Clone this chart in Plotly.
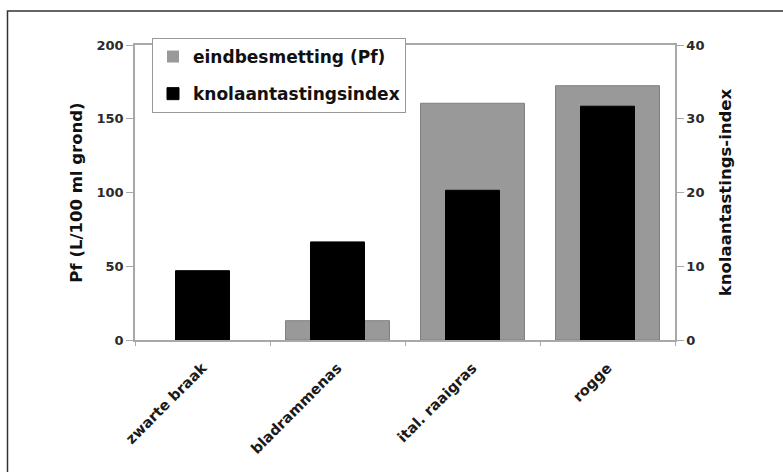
import plotly.graph_objects as go

categories = ["zwarte braak", "bladrammenas", "ital. raaigras", "rogge"]
pf_values = [0, 13.1, 160.5, 172.4]
index_values = [9.4, 13.3, 20.3, 31.7]
left_ticks = [0, 50, 100, 150, 200]
right_ticks = [0, 10, 20, 30, 40]

W, H = 783, 472
L, R, T, B = 135, 675, 45, 340

def px_x(x):
    return (x - L) / (R - L)

def px_y(y):
    return (B - y) / (B - T)

FONT = "DejaVu Sans"
AX = "#a8a8a8"

fig = go.Figure()
fig.add_trace(go.Bar(
    x=categories, y=pf_values, name="eindbesmetting (Pf)",
    marker=dict(color="#999999",
                line=dict(color="#7f7f7f", width=[0 if v == 0 else 1 for v in pf_values])),
    width=0.77, yaxis="y", legendgroup="a",
))
fig.add_trace(go.Bar(
    x=categories, y=index_values, name="knolaantastingsindex",
    marker=dict(color="#000000", line=dict(color="#000000", width=1)),
    width=0.40, yaxis="y2", legendgroup="b",
))

tickfont = dict(family=FONT, size=13, color="#2a2a2a", weight="bold")
xtickfont = dict(family=FONT, size=14.5, color="#1a1a1a", weight="bold")
titlefont = dict(family=FONT, size=16.5, color="#111111", weight="bold")

fig.update_layout(
    width=W, height=H,
    margin=dict(l=L, r=W - R, t=T, b=H - B, autoexpand=False),
    paper_bgcolor="white", plot_bgcolor="white",
    barmode="overlay",
    xaxis=dict(
        type="category", range=[-0.5, 3.5],
        showline=True, linecolor=AX, linewidth=1.5, mirror=True,
        ticks="outside", ticklen=4, tickcolor=AX, tickson="boundaries",
        tickangle=-45, tickfont=xtickfont, showgrid=False,
        ticklabelstandoff=12,
    ),
    yaxis=dict(
        range=[0, 200], tickvals=left_ticks,
        showline=True, linecolor=AX, linewidth=1.5,
        ticks="outside", ticklen=7, tickcolor=AX,
        tickfont=tickfont, showgrid=False, zeroline=False,
        title=dict(text="Pf (L/100 ml grond)", font=titlefont, standoff=10),
    ),
    yaxis2=dict(
        range=[0, 40], tickvals=right_ticks, overlaying="y", side="right",
        showline=True, linecolor=AX, linewidth=1.5,
        ticks="outside", ticklen=7, tickcolor=AX,
        tickfont=tickfont, showgrid=False, zeroline=False,
        title=dict(text="knolaantastings-index", font=titlefont, standoff=16),
    ),
    legend=dict(
        x=px_x(152), y=px_y(38), xanchor="left", yanchor="top",
        bgcolor="white", bordercolor="#999999", borderwidth=1,
        font=dict(family=FONT, size=17, color="#111111", weight="bold"),
        tracegroupgap=12, itemwidth=30,
    ),
    showlegend=True,
    shapes=[dict(
        type="rect", xref="paper", yref="paper",
        x0=px_x(7.5), y0=px_y(520), x1=px_x(830), y1=px_y(11),
        line=dict(color="#333333", width=1.5), fillcolor="rgba(0,0,0,0)",
        layer="below",
    )],
)

fig.write_html("out.html", config={"displayModeBar": False},
               post_script="document.body.style.margin='0px';")
